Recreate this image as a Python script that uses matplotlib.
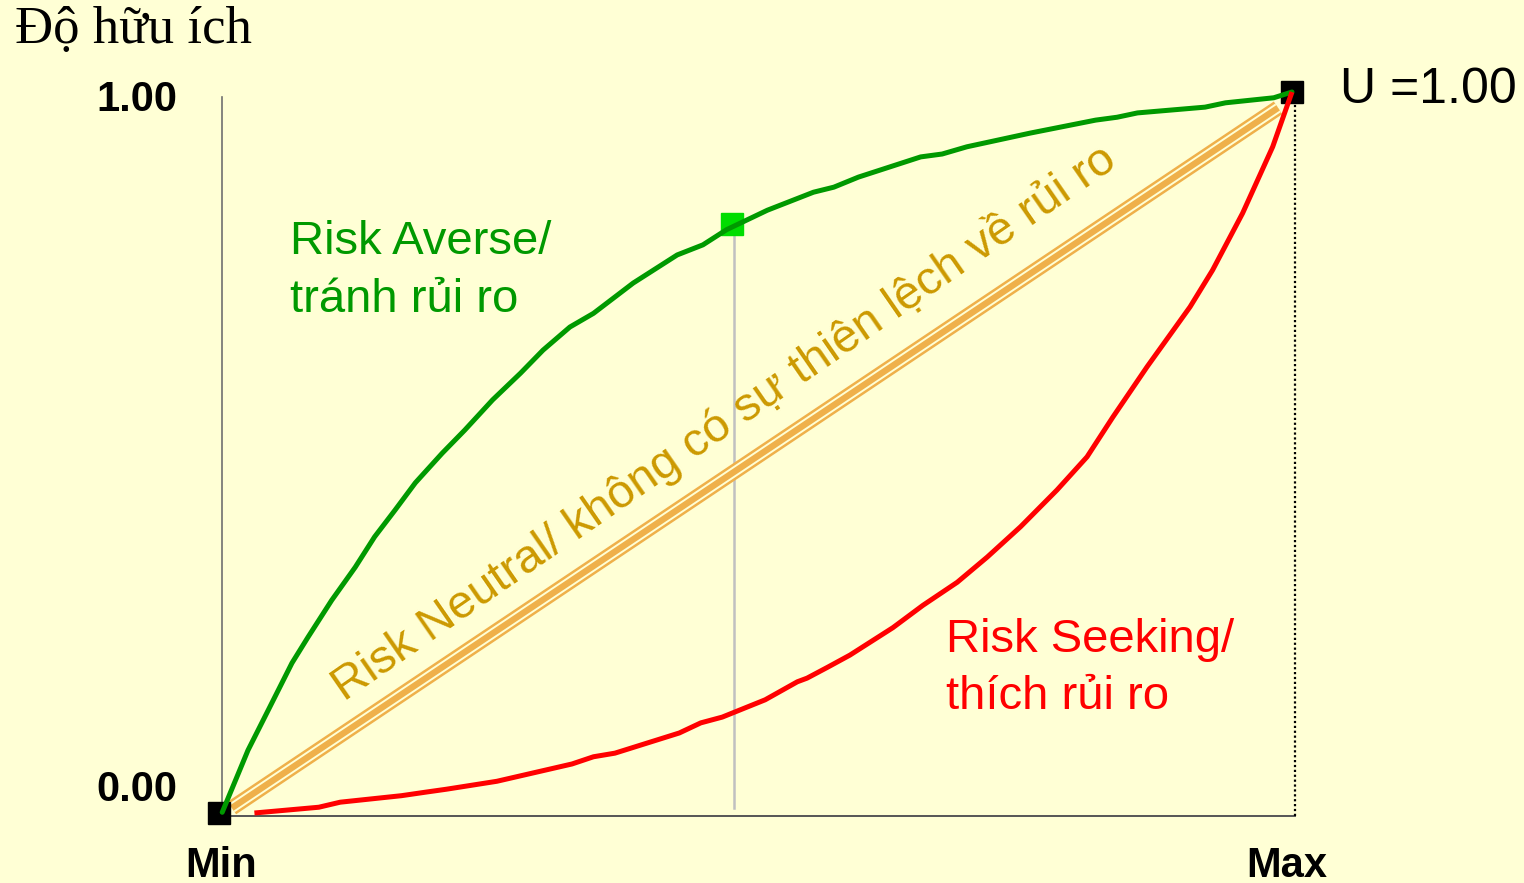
import numpy as np
import matplotlib
matplotlib.use("Agg")
import matplotlib.pyplot as plt

# Utility curves (x: outcome scaled Min..Max, y: utility 0..1)
averse_x = [0.003, 0.027, 0.046, 0.068, 0.083, 0.105, 0.127, 0.145, 0.164, 0.183,
            0.208, 0.229, 0.255, 0.281, 0.302, 0.327, 0.349, 0.386, 0.427, 0.451,
            0.473, 0.511, 0.554, 0.573, 0.596, 0.654, 0.674, 0.697, 0.756, 0.817,
            0.837, 0.856, 0.919, 0.938, 0.983, 1.0]
averse_y = [0.001, 0.087, 0.143, 0.208, 0.244, 0.295, 0.341, 0.383, 0.420, 0.458,
            0.499, 0.531, 0.573, 0.610, 0.642, 0.674, 0.693, 0.735, 0.774, 0.788,
            0.809, 0.836, 0.861, 0.868, 0.882, 0.910, 0.914, 0.924, 0.943, 0.961,
            0.965, 0.971, 0.979, 0.985, 0.992, 1.0]

seeking_x = [0.033, 0.093, 0.113, 0.170, 0.193, 0.212, 0.259, 0.329, 0.349, 0.369,
             0.429, 0.449, 0.469, 0.509, 0.539, 0.548, 0.567, 0.588, 0.628, 0.656,
             0.688, 0.716, 0.747, 0.781, 0.809, 0.833, 0.865, 0.905, 0.926, 0.954,
             0.982, 1.0]
seeking_y = [0.0, 0.008, 0.015, 0.024, 0.029, 0.033, 0.044, 0.068, 0.078, 0.083,
             0.111, 0.125, 0.133, 0.157, 0.182, 0.187, 0.202, 0.219, 0.257, 0.288,
             0.320, 0.355, 0.397, 0.448, 0.494, 0.549, 0.619, 0.702, 0.753, 0.832,
             0.924, 1.0]

neutral_x = [0.012, 0.987]
neutral_y = [0.007, 0.978]

# End points (Min, Max) and the marked point on the risk-averse curve
end_x = [0.0, 1.0]
end_y = [0.0, 1.0]
point_x = 0.478
point_y = float(np.interp(point_x, averse_x, averse_y)) + 0.004

y_tick_labels = ["0.00", "1.00"]
x_tick_labels = ["Min", "Max"]

BG = "#FFFFD5"
GREEN = "#009900"
RED = "#FF0000"
ORANGE = "#EFB04A"
GOLD = "#CC9900"

W, H = 1524, 883
fig = plt.figure(figsize=(W / 100, H / 100), dpi=100, facecolor=BG)
x0, x1 = 219, 1292          # pixel columns of Min / Max
ytop, ybot = 92, 813        # pixel rows of utility 1 / 0
ax = fig.add_axes([x0 / W, (H - ybot) / H, (x1 - x0) / W, (ybot - ytop) / H])
ax.set_xlim(0, 1)
ax.set_ylim(0, 1)
ax.set_facecolor(BG)
ax.axis("off")

sans = ["Liberation Sans", "DejaVu Sans"]
serif = ["Liberation Serif", "DejaVu Serif"]

# Axis frame
ax.plot([0.0028, 0.0028], [-0.0042, 0.993], color="#707070", lw=1.2, clip_on=False, zorder=1)
ax.plot([0.0028, 1.0028], [-0.0042, -0.0042], color="#555555", lw=1.4, clip_on=False, zorder=1)
ax.plot([1.0028, 1.0028], [-0.0042, 0.995], color="black", lw=1.6, ls=(0, (1, 1.2)),
        clip_on=False, zorder=1)

# Vertical guide from the marked point
ax.plot([point_x + 0.002, point_x + 0.002], [0.007, point_y], color="#C0C0C0", lw=1.8,
        clip_on=False, zorder=2)

# Risk-neutral triple line
for lw, col in [(11.0, ORANGE), (7.4, BG), (4.6, ORANGE)]:
    ax.plot(neutral_x, neutral_y, color=col, lw=lw, solid_capstyle="butt",
            clip_on=False, zorder=3)

# Markers (drawn beneath the curves)
ax.plot(end_x, end_y, ls="none", marker="s", ms=15.5, color="black", mec="black",
        clip_on=False, zorder=4)
ax.plot([point_x], [point_y], ls="none", marker="s", ms=15.5, color="#00DD00",
        mec="#00DD00", clip_on=False, zorder=4)

# Curves
ax.plot(averse_x, averse_y, color=GREEN, lw=3.6, clip_on=False, zorder=5,
        solid_joinstyle="round", solid_capstyle="round")
ax.plot(seeking_x, seeking_y, color=RED, lw=3.6, clip_on=False, zorder=5,
        solid_joinstyle="round", solid_capstyle="butt")

def px(x):
    return (x - x0) / (x1 - x0)

def py(y):
    return (ybot - y) / (ybot - ytop)

# Curve labels
ax.text(px(290), py(242), "Risk Averse/", color=GREEN, fontsize=34, family=sans,
        ha="left", va="center")
ax.text(px(290), py(300), "tránh rủi ro", color=GREEN, fontsize=34, family=sans,
        ha="left", va="center")
ax.text(px(946), py(640), "Risk Seeking/", color=RED, fontsize=34, family=sans,
        ha="left", va="center")
ax.text(px(946), py(697), "thích rủi ro", color=RED, fontsize=34, family=sans,
        ha="left", va="center")
ax.text(px(724), py(423), "Risk Neutral/ không có sự thiên lệch về rủi ro", color=GOLD,
        fontsize=34, family=sans, ha="center", va="center", rotation=34.7,
        rotation_mode="anchor")

# Axis labels
ax.text(px(177), py(100), y_tick_labels[1], fontsize=30, fontweight="bold", family=sans,
        ha="right", va="center")
ax.text(px(177), py(790), y_tick_labels[0], fontsize=30, fontweight="bold", family=sans,
        ha="right", va="center")
ax.text(px(221), py(866), x_tick_labels[0], fontsize=30, fontweight="bold", family=sans,
        ha="center", va="center")
ax.text(px(1287), py(866), x_tick_labels[1], fontsize=30, fontweight="bold", family=sans,
        ha="center", va="center")
ax.text(px(1340), py(90), "U =1.00", fontsize=36, family=sans, ha="left", va="center")
fig.text(15 / W, 1 - 30 / H, "Độ hữu ích", fontsize=38, family=serif, ha="left",
         va="center")

fig.savefig("out.png", dpi=100, facecolor=BG)
